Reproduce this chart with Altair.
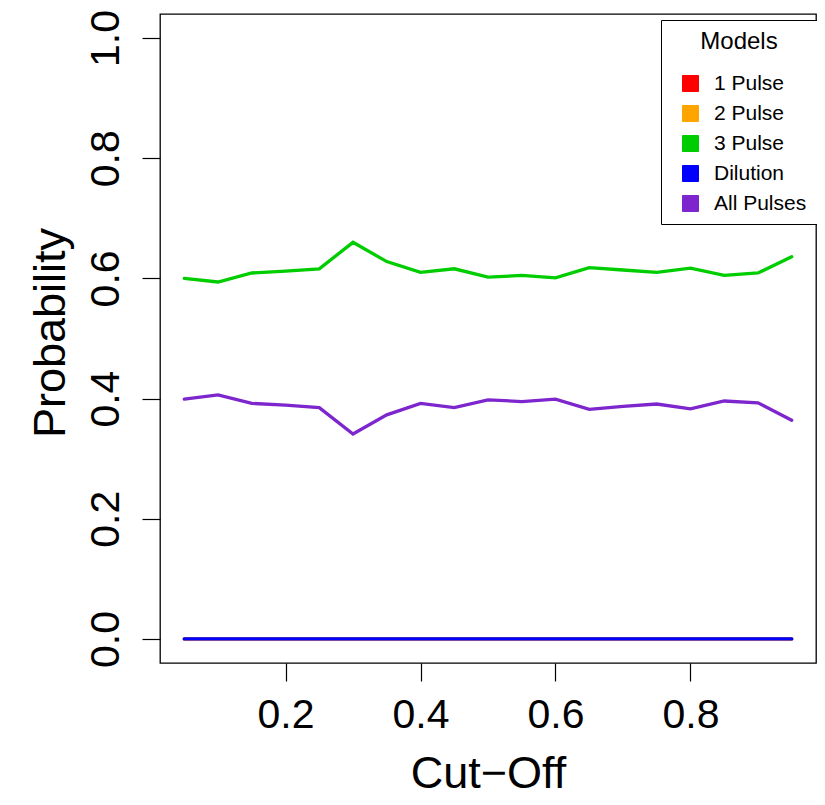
import altair as alt
import pandas as pd

cutoff = [0.05, 0.10, 0.15, 0.20, 0.25, 0.30, 0.35, 0.40, 0.45, 0.50,
          0.55, 0.60, 0.65, 0.70, 0.75, 0.80, 0.85, 0.90, 0.95]
pulse1 = [0.0] * 19
pulse2 = [0.0] * 19
pulse3 = [0.600, 0.594, 0.609, 0.612, 0.616, 0.660, 0.628, 0.610, 0.616, 0.602,
          0.605, 0.601, 0.618, 0.614, 0.610, 0.617, 0.605, 0.609, 0.636]
dilution = [0.0] * 19
all_pulses = [0.399, 0.406, 0.392, 0.389, 0.385, 0.341, 0.373, 0.392, 0.385, 0.398,
              0.395, 0.399, 0.382, 0.387, 0.391, 0.383, 0.396, 0.393, 0.364]

models = ["1 Pulse", "2 Pulse", "3 Pulse", "Dilution", "All Pulses"]
colors = ["#FF0000", "#FFA500", "#00CD00", "#0000FF", "#7D26CD"]
series = [pulse1, pulse2, pulse3, dilution, all_pulses]

y_ticks = [0.0, 0.2, 0.4, 0.6, 0.8, 1.0]
x_ticks = [0.2, 0.4, 0.6, 0.8]

rows = []
for m, vals in zip(models, series):
    for i, (c, v) in enumerate(zip(cutoff, vals)):
        rows.append({"cutoff": c, "prob": v, "model": m, "idx": i})
df = pd.DataFrame(rows)

FONT = "Liberation Sans"
W, H = 656, 649

x_enc = alt.X("cutoff:Q",
              scale=alt.Scale(domain=[0.014, 0.986], nice=False, zero=False),
              axis=alt.Axis(values=x_ticks, format=".1f", title="Cut\u2212Off",
                            labelFontSize=41, labelPadding=46, labelBaseline="alphabetic",
                            titleFontSize=45, titleFontWeight="normal",
                            titleBaseline="alphabetic", titleX=W / 2, titleY=124))
y_enc = alt.Y("prob:Q",
              scale=alt.Scale(domain=[-0.04, 1.04], nice=False, zero=False),
              axis=alt.Axis(values=y_ticks, format=".1f", title="Probability",
                            labelFontSize=41, labelAngle=270, labelAlign="center",
                            labelBaseline="alphabetic", labelPadding=24,
                            titleFontSize=45, titleFontWeight="normal",
                            titleAngle=270, titleAlign="center",
                            titleBaseline="alphabetic", titleX=-96, titleY=H / 2 - 6))
color_scale = alt.Scale(domain=models, range=colors)
legend = alt.Legend(
    title="Models", orient="none", legendX=501, legendY=6,
    direction="vertical",
    titleFontSize=24, titleFontWeight="normal", titleFont=FONT,
    titleAnchor="middle", titleAlign="center", titleBaseline="top",
    titlePadding=19, titleColor="black",
    labelFontSize=21, labelFont=FONT, labelColor="black",
    labelOffset=13, symbolOffset=9,
    symbolType="square", symbolSize=256,
    symbolStrokeColor="black", symbolStrokeWidth=1,
    symbolOpacity=1,
    rowPadding=8, padding=10,
    strokeColor="black", fillColor="white")

base = alt.Chart(df)

keys = base.mark_point(filled=True, size=0, opacity=1, shape="square",
                       stroke="black", strokeWidth=1).encode(
    x=x_enc, y=y_enc,
    color=alt.Color("model:N", scale=color_scale, legend=legend),
)

lines = base.mark_line(strokeWidth=3.3, strokeCap="round", clip=True).encode(
    x=x_enc, y=y_enc,
    color=alt.Color("model:N", scale=color_scale, legend=legend),
    detail="model:N",
    order="idx:Q",
)

chart = alt.layer(keys, lines).properties(
    width=W, height=H,
    padding={"left": 152, "top": 6, "right": 1, "bottom": 134},
    autosize=alt.AutoSizeParams(type="none"),
).configure(
    font=FONT,
).configure_view(
    stroke="black", strokeWidth=1.3,
).configure_axis(
    domain=False, grid=False, ticks=True, tickColor="black", tickSize=18,
    tickWidth=1.2, labelColor="black", titleColor="black",
    labelFont=FONT, titleFont=FONT,
)

chart.save("out.html", embed_options={"renderer": "svg", "actions": False})
